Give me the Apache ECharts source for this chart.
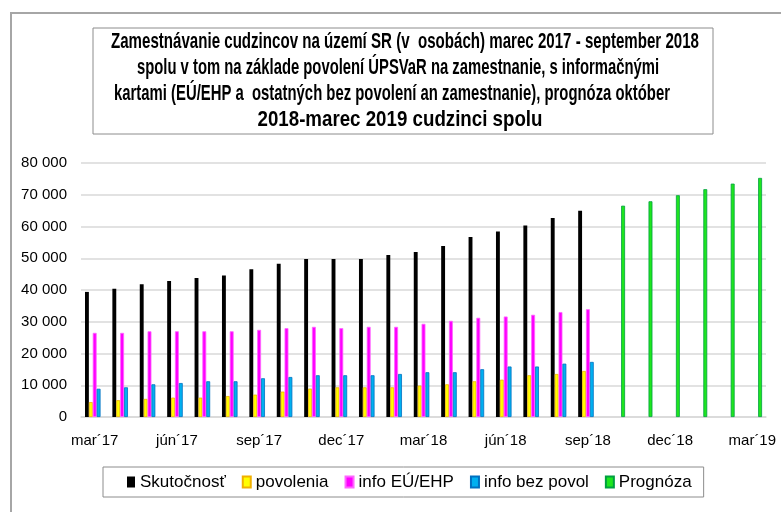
<!DOCTYPE html>
<html>
<head>
<meta charset="utf-8">
<script src="https://cdn.jsdelivr.net/npm/echarts@6/dist/echarts.min.js"></script>
<style>html,body{margin:0;padding:0;background:#fff}#c{width:781px;height:512px}</style>
</head>
<body>
<div id="c"></div>
<script>
const categories = ['mar´17','apr´17','máj´17','jún´17','júl´17','aug´17','sep´17','okt´17','nov´17','dec´17','jan´18','feb´18','mar´18','apr´18','máj´18','jún´18','júl´18','aug´18','sep´18','okt´18','nov´18','dec´18','jan´19','feb´19','mar´19'];
const skutocnost = [39400, 40400, 41850, 42800, 43750, 44600, 46500, 48250, 49750, 49750, 49750, 51000, 51950, 53850, 56700, 58450, 60350, 62650, 65000, null, null, null, null, null, null];
const povolenia = [4700, 5300, 5700, 6100, 6100, 6600, 7050, 8000, 8950, 9350, 9350, 9350, 9900, 10300, 11250, 11750, 13150, 13550, 14500, null, null, null, null, null, null];
const infoEU = [26500, 26500, 27000, 27000, 27000, 27000, 27450, 28000, 28400, 28000, 28400, 28400, 29350, 30300, 31250, 31650, 32200, 33050, 33950, null, null, null, null, null, null];
const infoBezPovol = [8900, 9350, 10300, 10700, 11250, 11250, 12200, 12600, 13150, 13150, 13150, 13550, 14100, 14100, 15050, 15900, 15900, 16800, 17350, null, null, null, null, null, null];
const prognoza = [null, null, null, null, null, null, null, null, null, null, null, null, null, null, null, null, null, null, null, 66550, 67950, 69850, 71750, 73500, 75300];
const seriesNames = ['Skutočnosť', 'povolenia', 'info EÚ/EHP', 'info bez povol', 'Prognóza'];
const titleLines = [
  'Zamestnávanie cudzincov na území SR (v  osobách) marec 2017 - september 2018',
  'spolu v tom na základe povolení ÚPSVaR na zamestnanie, s informačnými',
  'kartami (EÚ/EHP a  ostatných bez povolení an zamestnanie), prognóza október',
  '2018-marec 2019 cudzinci spolu'
];

const FONT = "'Liberation Sans', Arial, sans-serif";
const TITLE_FONT = "bold 22px 'Liberation Sans', Arial, sans-serif";
const titleWidths = [588, 522, 556, 285];
const titleCenters = [405, 398, 392, 400];
const measureCtx = document.createElement('canvas').getContext('2d');
measureCtx.font = TITLE_FONT;
const titleGraphics = titleLines.map((t, i) => {
  const w = measureCtx.measureText(t).width;
  return {type: 'text', x: titleCenters[i], y: 42 + i * 26, z: 2, scaleX: titleWidths[i] / w,
    style: {text: t, font: TITLE_FONT, fill: '#000', textAlign: 'center', textVerticalAlign: 'middle'}};
});

const chart = echarts.init(document.getElementById('c'), null, {renderer: 'canvas'});

function mk(name, data, color, border) {
  return {
    name: name, type: 'bar', data: data,
    barGap: '0%', barCategoryGap: '29%',
    itemStyle: {color: color, borderColor: border, borderWidth: border ? 0.8 : 0},
    animation: false
  };
}

chart.setOption({
  animation: false,
  backgroundColor: '#ffffff',
  textStyle: {fontFamily: FONT},
  graphic: [
    {type: 'rect', shape: {x: 11, y: 13, width: 790, height: 520}, style: {fill: 'none', stroke: '#a6a6a6', lineWidth: 2}, z: -1},
    {type: 'rect', shape: {x: 93, y: 28, width: 620, height: 106}, style: {fill: '#fff', stroke: '#8c8c8c', lineWidth: 1}, z: 1}
  ].concat(titleGraphics),
  grid: {left: 81, right: 15, top: 163, bottom: 95, containLabel: false},
  legend: {
    data: seriesNames,
    left: 103, top: 467,
    padding: [5, 12, 5, 24],
    borderColor: '#8c8c8c', borderWidth: 1,
    itemWidth: 8, itemHeight: 11, itemGap: 16,
    icon: 'rect',
    textStyle: {fontFamily: FONT, fontSize: 17, color: '#000', lineHeight: 20, padding: [0, 0, 0, 0]}
  },
  xAxis: {
    type: 'category', data: categories,
    axisLine: {show: true, lineStyle: {color: '#d9d9d9', width: 1.5}},
    axisTick: {show: false},
    axisLabel: {interval: 2, margin: 16, fontFamily: FONT, fontSize: 15, color: '#000'}
  },
  yAxis: {
    type: 'value', min: 0, max: 80000, interval: 10000,
    axisLine: {show: false}, axisTick: {show: false},
    splitLine: {lineStyle: {color: '#d9d9d9', width: 1.5}},
    axisLabel: {margin: 14, fontFamily: FONT, fontSize: 15, color: '#000',
      formatter: v => String(v).replace(/\B(?=(\d{3})+(?!\d))/g, ' ')}
  },
  series: [
    mk(seriesNames[0], skutocnost, '#000000', null),
    mk(seriesNames[1], povolenia, '#ffff00', '#f0b000'),
    mk(seriesNames[2], infoEU, '#ff00ff', '#ff66ff'),
    mk(seriesNames[3], infoBezPovol, '#00b0f0', '#0070c0'),
    mk(seriesNames[4], prognoza, '#1ee61e', '#00a040')
  ]
});
</script>
</body>
</html>
